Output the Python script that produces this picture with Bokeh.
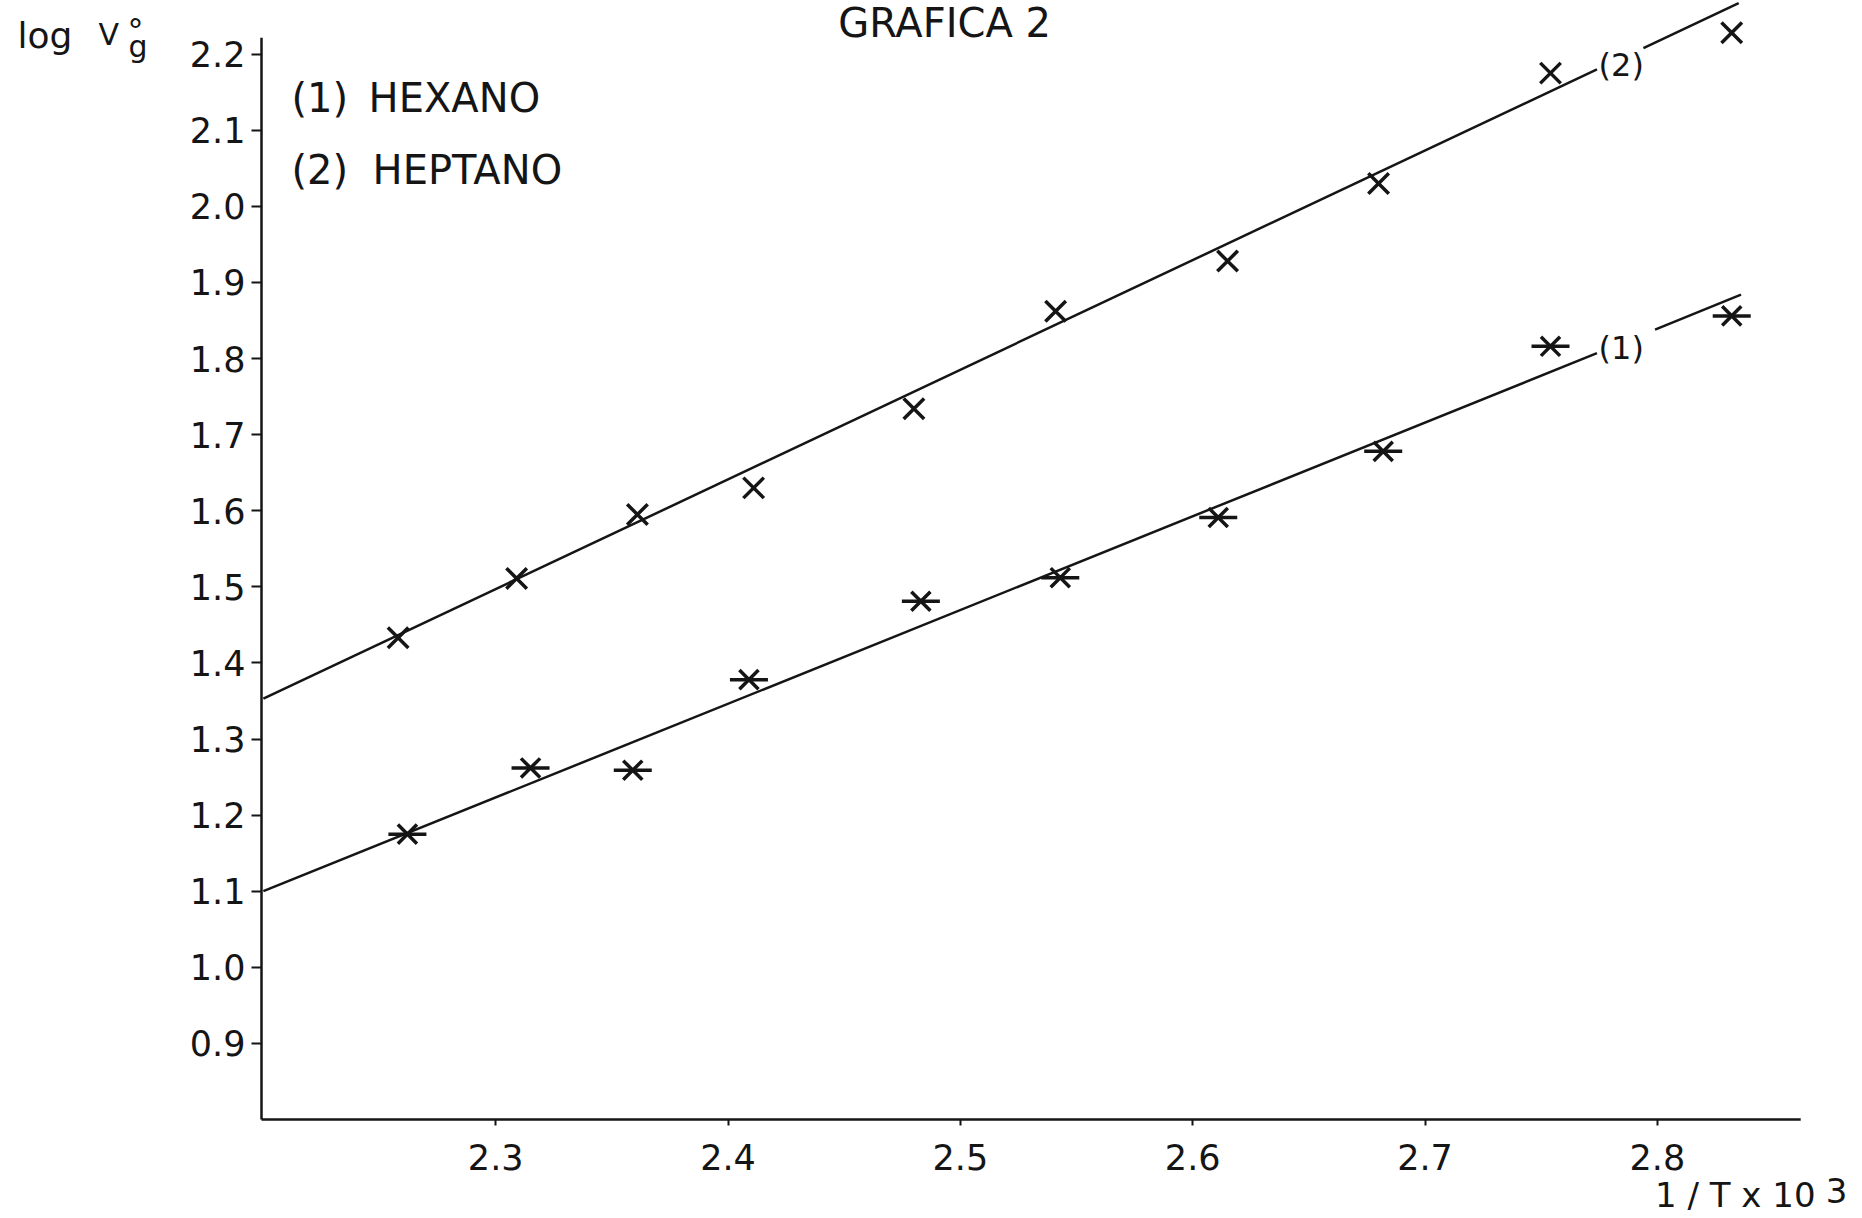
from bokeh.plotting import figure
from bokeh.models import Range1d, FixedTicker, Label
from bokeh.embed import file_html
from bokeh.resources import INLINE

# Measured points: log Vg° against 1/T x 10^3
hexano_x = [2.262, 2.315, 2.359, 2.409, 2.483, 2.543, 2.611, 2.682, 2.754, 2.832]
hexano_y = [1.175, 1.262, 1.259, 1.378, 1.481, 1.512, 1.591, 1.678, 1.816, 1.856]
heptano_x = [2.258, 2.309, 2.361, 2.411, 2.480, 2.541, 2.615, 2.680, 2.754, 2.832]
heptano_y = [1.433, 1.511, 1.595, 1.630, 1.734, 1.862, 1.928, 2.030, 2.175, 2.228]

# Fitted straight lines, each drawn in two pieces around its curve label
hexano_fit_x = [2.200, 2.774, 2.799, 2.836]
hexano_fit_y = [1.100, 1.807, 1.838, 1.884]
heptano_fit_x = [2.200, 2.774, 2.794, 2.835]
heptano_fit_y = [1.353, 2.180, 2.208, 2.267]

x_ticks = [2.3, 2.4, 2.5, 2.6, 2.7, 2.8]
x_tick_labels = ["2.3", "2.4", "2.5", "2.6", "2.7", "2.8"]
y_ticks = [0.9, 1.0, 1.1, 1.2, 1.3, 1.4, 1.5, 1.6, 1.7, 1.8, 1.9, 2.0, 2.1, 2.2]
y_tick_labels = ["0.9", "1.0", "1.1", "1.2", "1.3", "1.4", "1.5", "1.6", "1.7",
                 "1.8", "1.9", "2.0", "2.1", "2.2"]

# where the two axes cross, and how far each axis line runs
X_ORIGIN, Y_ORIGIN = 2.1992, 0.8
X_AXIS_END, Y_AXIS_END = 2.8617, 2.2216

INK = "#151515"
FONT = "DejaVu Sans"

p = figure(width=1862, height=1218,
           x_range=Range1d(2.08686, 2.88829), y_range=Range1d(0.66991, 2.27044),
           output_backend="svg", toolbar_location=None,
           min_border_left=0, min_border_right=0,
           min_border_top=0, min_border_bottom=0,
           background_fill_color="white", border_fill_color="white",
           outline_line_color=None)
p.grid.visible = False

# axes pinned to the origin; their lines are drawn as segments below
p.xaxis.fixed_location = Y_ORIGIN
p.yaxis.fixed_location = X_ORIGIN

p.xaxis.ticker = FixedTicker(ticks=x_ticks)
p.xaxis.major_label_overrides = dict(zip(x_ticks, x_tick_labels))
p.xaxis.major_tick_out = 6
p.xaxis.major_label_standoff = 18

p.yaxis.ticker = FixedTicker(ticks=y_ticks)
p.yaxis.major_label_overrides = dict(zip(y_ticks, y_tick_labels))
p.yaxis.major_tick_out = 10
p.yaxis.major_label_standoff = 6

for ax in (p.xaxis, p.yaxis):
    ax.axis_line_color = None
    ax.major_tick_line_color = INK
    ax.major_tick_line_width = 2
    ax.major_tick_in = 0
    ax.minor_tick_line_color = None
    ax.major_label_text_font = FONT
    ax.major_label_text_font_size = "35px"
    ax.major_label_text_color = INK

p.segment(x0=[X_ORIGIN, X_ORIGIN], y0=[Y_ORIGIN, Y_ORIGIN],
          x1=[X_AXIS_END, X_ORIGIN], y1=[Y_ORIGIN, Y_AXIS_END],
          line_color=INK, line_width=2.5)

# fitted lines
p.segment(x0=hexano_fit_x[0::2], y0=hexano_fit_y[0::2],
          x1=hexano_fit_x[1::2], y1=hexano_fit_y[1::2],
          line_color=INK, line_width=2.5)
p.segment(x0=heptano_fit_x[0::2], y0=heptano_fit_y[0::2],
          x1=heptano_fit_x[1::2], y1=heptano_fit_y[1::2],
          line_color=INK, line_width=2.5)

# markers: heptano as crosses, hexano as crosses with a horizontal bar
p.scatter(heptano_x, heptano_y, marker="x", size=29, line_width=3.5, line_color=INK)
p.scatter(hexano_x, hexano_y, marker="x", size=27, line_width=3.5, line_color=INK)
p.scatter(hexano_x, hexano_y, marker="dash", size=38, line_width=3.5, line_color=INK)


def add_text(x, y, text, size, align="left"):
    p.add_layout(Label(x=x, y=y, text=text, text_font=FONT,
                       text_font_size=size, text_color=INK,
                       text_align=align, text_baseline="alphabetic"))


# title
add_text(2.4932, 2.2405, "GRAFICA 2", "40px", align="center")

# legend
add_text(2.2121, 2.1420, "(1)", "40px")
add_text(2.2453, 2.1420, "HEXANO", "40px")
add_text(2.2121, 2.0480, "(2)", "40px")
add_text(2.2470, 2.0480, "HEPTANO", "40px")

# curve labels
add_text(2.7747, 2.1860, "(2)", "32px")
add_text(2.7747, 1.8140, "(1)", "32px")

# y axis title: log V°g
add_text(2.0942, 2.2244, "log", "36px")
add_text(2.1290, 2.2257, "V", "30px")
add_text(2.1415, 2.2304, "°", "32px")
add_text(2.1420, 2.2100, "g", "30px")

# x axis title: 1/T x 10^3
add_text(2.7990, 0.7010, "1 / T x 10", "34px")
add_text(2.8725, 0.7070, "3", "34px")

open("out.html", "w").write(file_html(p, INLINE))
